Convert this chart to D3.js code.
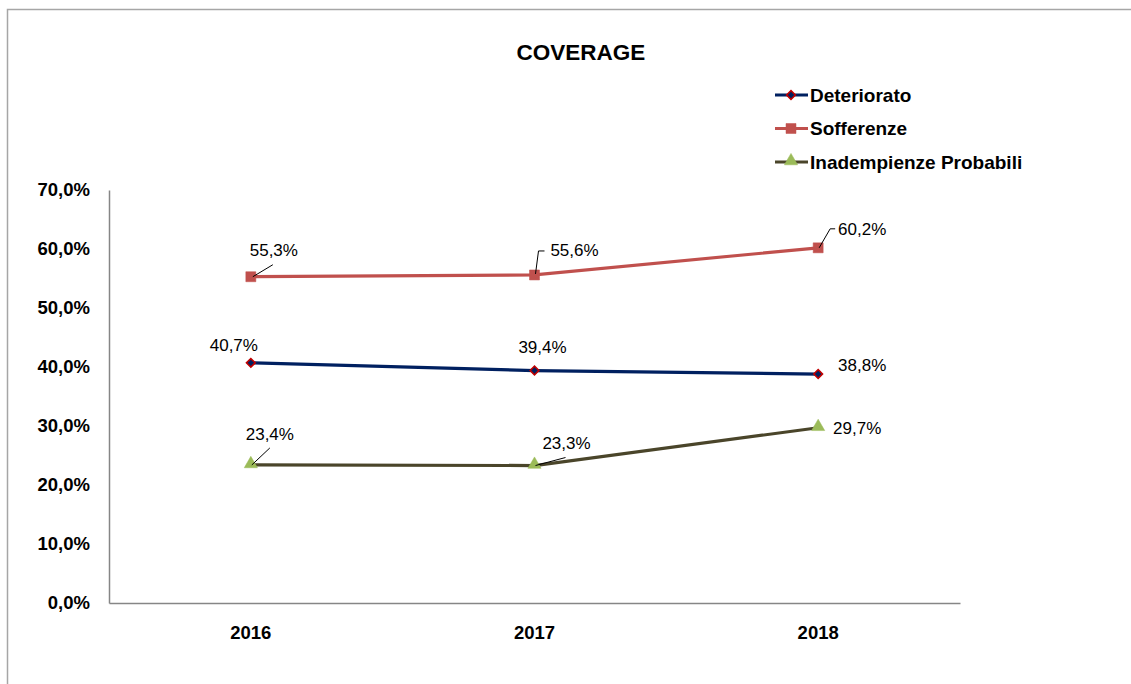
<!DOCTYPE html>
<html>
<head>
<meta charset="utf-8">
<script src="https://cdn.jsdelivr.net/npm/d3@7"></script>
<style>
  body { margin: 0; background: #fff; }
  text { font-family: "Liberation Sans", Arial, sans-serif; fill: #000; }
</style>
</head>
<body>
<script>
// data
const years = ["2016", "2017", "2018"];
const deteriorato = [40.7, 39.4, 38.8];
const sofferenze = [55.3, 55.6, 60.2];
const inadempienze = [23.4, 23.3, 29.7];
const yTicks = [0, 10, 20, 30, 40, 50, 60, 70];

// label placement: dx/dy of label centre from the point, optional leader path
const series = [
  { name: "Deteriorato", values: deteriorato, line: "#002060", marker: "diamond", fill: "#002060", stroke: "#c00000",
    labels: [ {dx: -17, dy: -17}, {dx: 8, dy: -23}, {dx: 44, dy: -9} ] },
  { name: "Sofferenze", values: sofferenze, line: "#c0504d", marker: "square", fill: "#c0504d", stroke: "#c0504d",
    labels: [ {dx: 23, dy: -26, leader: [[2, 0], [22, -12]]},
              {dx: 40, dy: -24, leader: [[1, -1], [4, -24], [10, -24]]},
              {dx: 44, dy: -18, leader: [[1, 0], [12, -19], [17, -19]]} ] },
  { name: "Inadempienze Probabili", values: inadempienze, line: "#4a452a", marker: "triangle", fill: "#9bbb59", stroke: "#9bbb59",
    labels: [ {dx: 19, dy: -30, leader: [[1, 0], [19, -17]]},
              {dx: 32, dy: -22, leader: [[1, 0], [31, -8]]},
              {dx: 39, dy: 1} ] }
];

const W = 1131, H = 684;
const margin = {top: 190, left: 109, right: 171, bottom: 81};

const svg = d3.select("body").append("svg")
  .attr("width", W).attr("height", H);

// outer chart border
svg.append("rect")
  .attr("x", 7.5).attr("y", 9.5)
  .attr("width", 1140).attr("height", 700)
  .attr("fill", "none").attr("stroke", "#a6a6a6").attr("stroke-width", 1.5);

const x = d3.scaleBand().domain(years).range([margin.left, W - margin.right]);
const y = d3.scaleLinear().domain([0, 70]).range([H - margin.bottom, margin.top]);
const cx = d => x(d) + x.bandwidth() / 2;

// title
svg.append("text")
  .attr("x", 581).attr("y", 60)
  .attr("text-anchor", "middle")
  .style("font-size", "22.5px").style("font-weight", "bold")
  .text("COVERAGE");

// y axis
const yAxis = svg.append("g")
  .attr("transform", `translate(${margin.left},0)`)
  .call(d3.axisLeft(y).tickValues(yTicks).tickSize(0).tickPadding(19)
    .tickFormat(d => d3.format(".1f")(d).replace(".", ",") + "%"));
yAxis.select(".domain").attr("stroke", "#868686").attr("stroke-width", 1.5);
yAxis.selectAll("text").style("font-size", "18.5px").style("font-weight", "bold")
  .style("font-family", "'Liberation Sans', Arial, sans-serif");

// x axis
const xAxis = svg.append("g")
  .attr("transform", `translate(0,${H - margin.bottom})`)
  .call(d3.axisBottom(x).tickSize(0).tickPadding(23));
xAxis.select(".domain").attr("stroke", "#868686").attr("stroke-width", 1.5);
xAxis.selectAll("text").style("font-size", "18.5px").style("font-weight", "bold")
  .style("font-family", "'Liberation Sans', Arial, sans-serif");

const symbolOf = {
  diamond: d3.symbol().type(d3.symbolSquare).size(38),
  square: d3.symbol().type(d3.symbolSquare).size(100),
  triangle: d3.symbol().type(d3.symbolTriangle).size(75)
};
const markerTransform = (m, px, py) =>
  m === "diamond" ? `translate(${px},${py}) rotate(45)`
  : m === "triangle" ? `translate(${px},${py - 1})`
  : `translate(${px},${py})`;

const line = d3.line().x((d, i) => cx(years[i])).y(d => y(d));

series.forEach(s => {
  svg.append("path")
    .datum(s.values)
    .attr("d", line)
    .attr("fill", "none")
    .attr("stroke", s.line)
    .attr("stroke-width", 3.2);

  s.values.forEach((v, i) => {
    const px = cx(years[i]), py = y(v);
    svg.append("path")
      .attr("d", symbolOf[s.marker]())
      .attr("transform", markerTransform(s.marker, px, py))
      .attr("fill", s.fill)
      .attr("stroke", s.stroke)
      .attr("stroke-width", s.marker === "diamond" ? 1.6 : 0.5);

    const lab = s.labels[i];
    if (lab.leader) {
      svg.append("path")
        .attr("d", d3.line()(lab.leader.map(p => [px + p[0], py + p[1]])))
        .attr("fill", "none").attr("stroke", "#000").attr("stroke-width", 1);
    }
    svg.append("text")
      .attr("x", px + lab.dx).attr("y", py + lab.dy)
      .attr("text-anchor", "middle").attr("dominant-baseline", "central")
      .style("font-size", "17px")
      .text(d3.format(".1f")(v).replace(".", ",") + "%");
  });
});

// legend
const legend = svg.append("g");
series.forEach((s, i) => {
  const ly = 95 + i * 33.5;
  legend.append("line")
    .attr("x1", 775).attr("x2", 808).attr("y1", ly).attr("y2", ly)
    .attr("stroke", s.line).attr("stroke-width", 3.2);
  legend.append("path")
    .attr("d", symbolOf[s.marker]())
    .attr("transform", markerTransform(s.marker, 791, ly))
    .attr("fill", s.fill).attr("stroke", s.stroke)
    .attr("stroke-width", s.marker === "diamond" ? 1.6 : 0.5);
  legend.append("text")
    .attr("x", 810).attr("y", ly)
    .attr("dominant-baseline", "central")
    .style("font-size", "19px").style("font-weight", "bold")
    .text(s.name);
});
</script>
</body>
</html>
